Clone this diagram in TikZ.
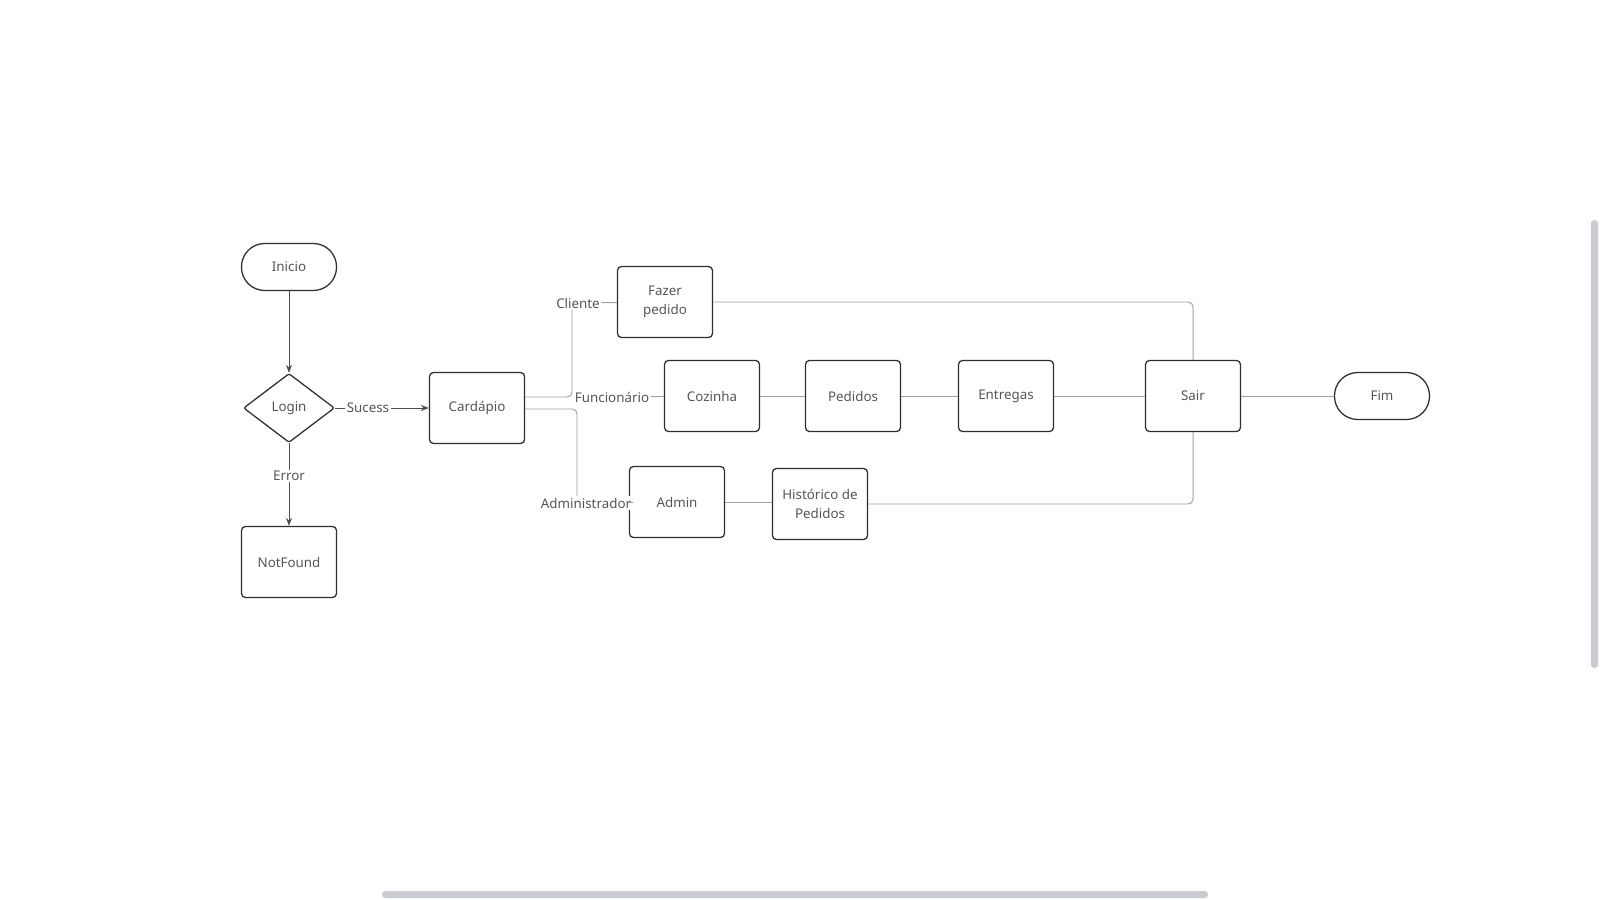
\documentclass[tikz,border=0pt]{standalone}
\usepackage{fontspec}
\setmainfont{Noto Sans}
\usetikzlibrary{calc}
\usetikzlibrary{arrows.meta}
\usetikzlibrary{shapes.geometric}
\definecolor{boxline}{HTML}{2E2E2E}
\definecolor{wire}{HTML}{A0A0A0}
\definecolor{txt}{HTML}{555555}
\definecolor{barra}{HTML}{C9CDD1}

\begin{document}
\begin{tikzpicture}[x=0.025cm, y=-0.025cm,
    every node/.style={font=\fontsize{9.5}{13.5}\selectfont, text=txt},
    etapa/.style={draw=boxline, line width=0.9pt, rounded corners=0.1cm, minimum width=2.375cm, minimum height=1.775cm, align=center},
    terminal/.style={draw=boxline, line width=0.9pt, rounded corners=0.58cm, minimum width=2.375cm, minimum height=1.175cm},
    decisao/.style={draw=boxline, line width=0.9pt, diamond, aspect=1.32, minimum width=2.275cm, minimum height=1.725cm, inner sep=0pt, rounded corners=1.5pt},
    fluxo/.style={draw=boxline!85, line width=0.6pt, -{Stealth[length=2mm]}},
    ligacao/.style={draw=wire, line width=0.7pt, rounded corners=0.12cm},
    rotulo/.style={fill=white, inner sep=1pt}]

    \useasboundingbox (0,0) rectangle (1600,900);

    % inicio e login
    \node[terminal] (inicio) at (289,267) {Inicio};
    \node[decisao] (login) at (289,408) {Login};
    \node[etapa] (notfound) at (289,562) {NotFound};
    \node[etapa] (cardapio) at (477,408) {Cardápio};

    \draw[fluxo] (inicio) -- (login);
    \draw[fluxo] (login) -- node[rotulo, pos=0.35] {Sucess} (cardapio);
    \draw[fluxo] (login) -- node[rotulo, pos=0.4] {Error} (notfound);

    % etapas
    \node[etapa] (fazer) at (665,302) {Fazer\\pedido};
    \node[etapa] (cozinha) at (712,396) {Cozinha};
    \node[etapa] (pedidos) at (853,396) {Pedidos};
    \node[etapa] (entregas) at (1006,396) {Entregas};
    \node[etapa] (sair) at (1193,396) {Sair};
    \node[terminal] (fim) at (1382,396) {Fim};
    \node[etapa] (admin) at (677,502) {Admin};
    \node[etapa] (historico) at (820,504) {Histórico de\\Pedidos};

    \node[rotulo] (cliente) at (578,303) {Cliente};
    \node[rotulo] (funcionario) at (612,397) {Funcionário};
    \node[rotulo] (administrador) at (586,503) {Administrador};

    % ramos do cardapio
    \draw[ligacao] ($(cardapio.east)+(0,-11)$) -| ($(cliente.south)+(-6,0)$);
    \draw[ligacao] (cliente) -- (fazer);
    \draw[ligacao] ($(cardapio.east)+(0,-6)$) -- ($(cardapio.east)+(0,-6)$ -| funcionario.west);
    \draw[ligacao] (funcionario) -- (cozinha);
    \draw[ligacao] ($(cardapio.east)+(0,1)$) -| ($(administrador.north)+(-9,0)$);
    \draw[ligacao] (administrador) -- (admin);

    \draw[ligacao] (cozinha) -- (pedidos);
    \draw[ligacao] (pedidos) -- (entregas);
    \draw[ligacao] (entregas) -- (sair);
    \draw[ligacao] (sair) -- (fim);
    \draw[ligacao] (admin.east) -- (admin.east -| historico.west);
    \draw[ligacao] (fazer.east) -| (sair.north);
    \draw[ligacao] (historico.east) -| (sair.south);

    % barras de rolagem
    \fill[barra, rounded corners=0.08cm] (382,891) rectangle (1208,898);
    \fill[barra, rounded corners=0.08cm] (1591,220) rectangle (1598,668);

\end{tikzpicture}
\end{document}
